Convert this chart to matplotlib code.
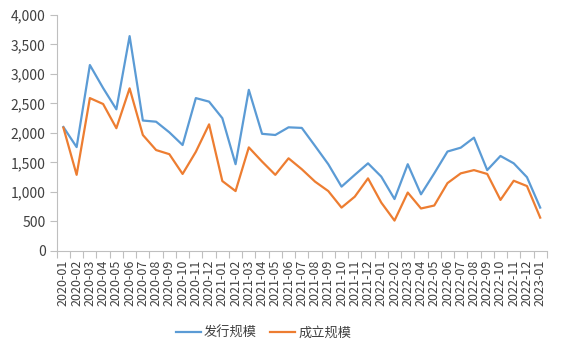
import matplotlib
matplotlib.use("Agg")
import matplotlib.pyplot as plt
import numpy as np
from matplotlib.ticker import FuncFormatter, FixedLocator

plt.rcParams['font.family'] = ['Noto Sans CJK SC', 'DejaVu Sans']

months = ["2020-01","2020-02","2020-03","2020-04","2020-05","2020-06","2020-07","2020-08","2020-09","2020-10","2020-11","2020-12",
          "2021-01","2021-02","2021-03","2021-04","2021-05","2021-06","2021-07","2021-08","2021-09","2021-10","2021-11","2021-12",
          "2022-01","2022-02","2022-03","2022-04","2022-05","2022-06","2022-07","2022-08","2022-09","2022-10","2022-11","2022-12",
          "2023-01"]
issue = [2100, 1760, 3150, 2760, 2400, 3640, 2210, 2190, 2010, 1795, 2590, 2530,
         2250, 1470, 2730, 1985, 1965, 2095, 2085, 1780, 1470, 1090, 1290, 1485,
         1260, 880, 1470, 960, 1315, 1685, 1750, 1920, 1370, 1610, 1485, 1250,
         735]
established = [2090, 1290, 2590, 2490, 2080, 2755, 1965, 1710, 1640, 1305, 1680, 2145,
               1185, 1015, 1755, 1515, 1290, 1570, 1385, 1175, 1015, 735, 920, 1230,
               820, 515, 990, 720, 770, 1150, 1315, 1370, 1305, 865, 1190, 1100,
               565]
series_names = ["发行规模", "成立规模"]

fig = plt.figure(figsize=(5.62, 3.54), dpi=100)
ax = fig.add_axes([0.101, 0.291, 0.872, 0.667])
x = np.arange(len(months))
ax.plot(x, issue, color="#5B9BD5", lw=1.6, label=series_names[0])
ax.plot(x, established, color="#ED7D31", lw=1.6, label=series_names[1])

ax.set_xlim(-0.5, len(months) - 0.5)
ax.set_ylim(0, 4000)
ax.set_yticks(np.arange(0, 4001, 500))
ax.yaxis.set_major_formatter(FuncFormatter(lambda v, p: f"{int(v):,}"))
ax.set_xticks(x)
ax.set_xticklabels(months, rotation=90, fontsize=9, color="#404040")
ax.xaxis.set_minor_locator(FixedLocator(np.arange(-0.5, len(months), 1.0)))
ax.tick_params(axis='x', which='major', length=0, pad=6)
ax.tick_params(axis='x', which='minor', length=5, color="#BFBFBF", width=0.8)
ax.tick_params(axis='y', length=5, color="#BFBFBF", width=0.8, labelsize=10, labelcolor="#404040", pad=3)

for s in ["top", "right"]:
    ax.spines[s].set_visible(False)
for s in ["left", "bottom"]:
    ax.spines[s].set_color("#BFBFBF")
    ax.spines[s].set_linewidth(0.8)

fig.legend(loc="center", bbox_to_anchor=(0.469, 0.059), ncol=2, frameon=False,
           fontsize=9.5, handlelength=1.9, handletextpad=0.25, columnspacing=1.0,
           labelcolor="#404040")

fig.savefig("out.png", dpi=100)
